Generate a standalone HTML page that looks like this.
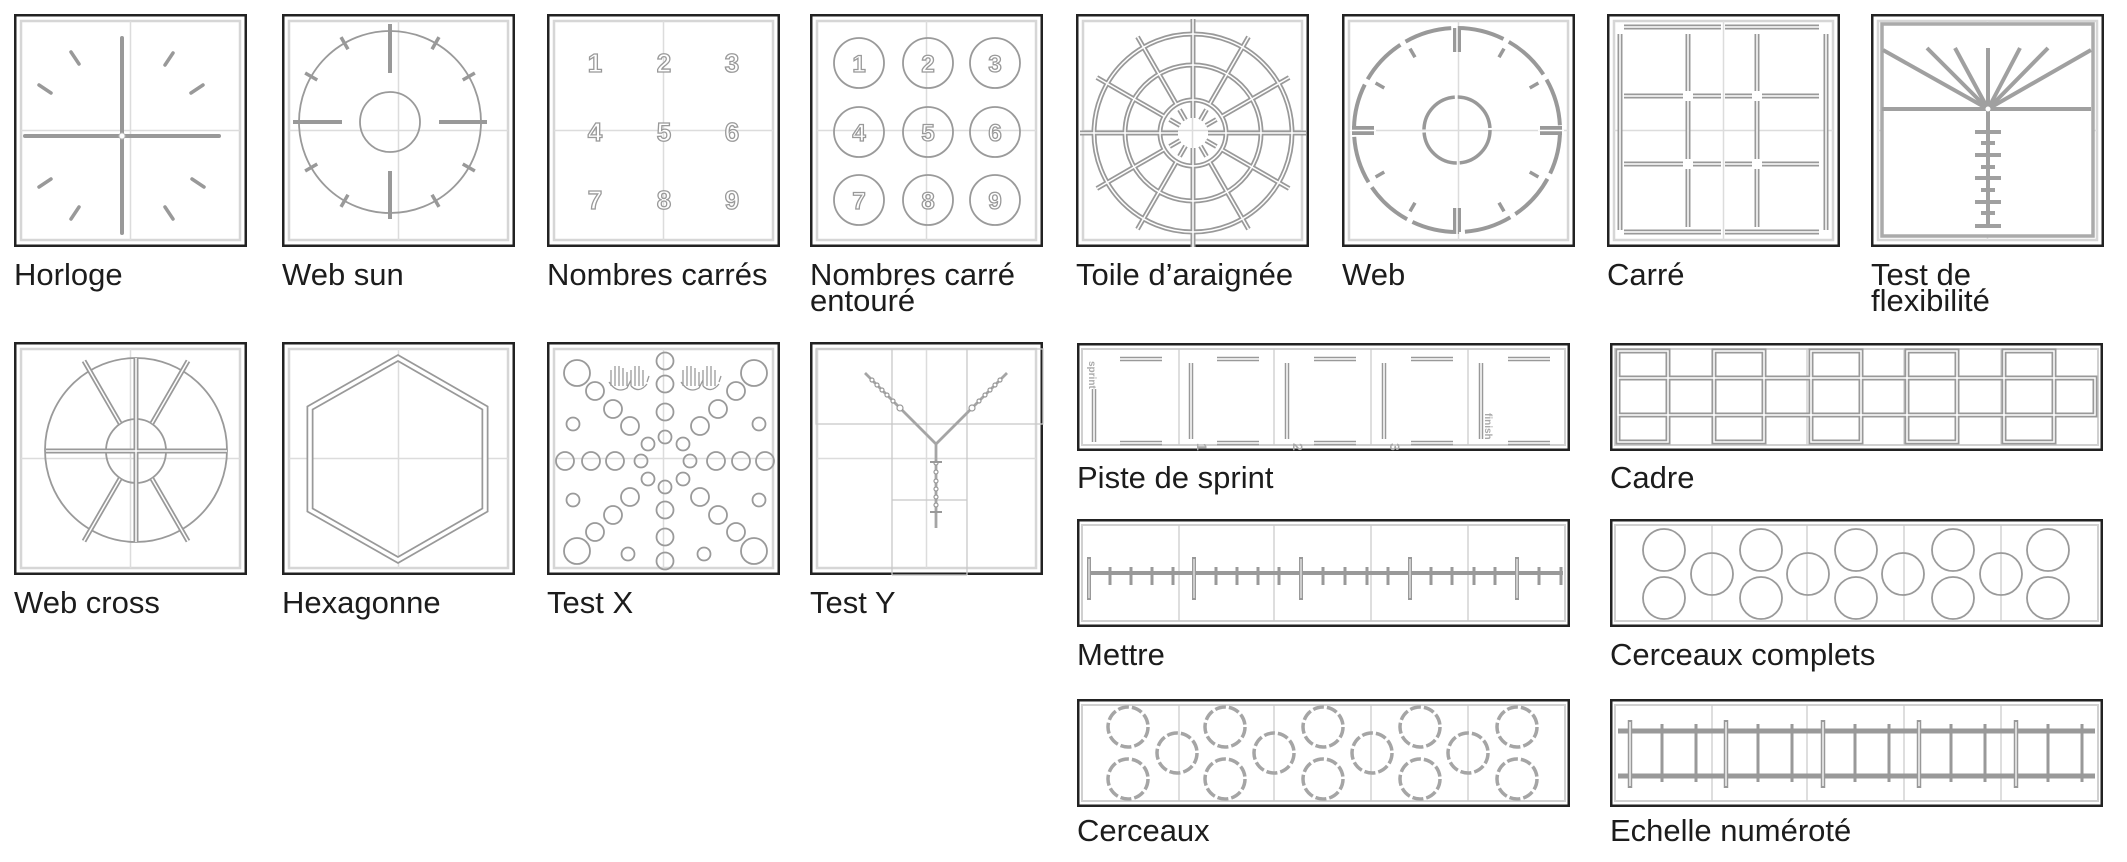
<!DOCTYPE html>
<html><head><meta charset="utf-8"><style>
html,body{margin:0;padding:0;background:#fff;}
svg{display:block;}
text.l{font-family:"Liberation Sans",Arial,sans-serif;font-size:31px;fill:#1c1c1c;}
.g{stroke:#9a9a9a;fill:none;}
</style></head><body>
<svg width="2127" height="862" viewBox="0 0 2127 862" xmlns="http://www.w3.org/2000/svg">
<defs>
<g id="sq">
<rect x="1.25" y="1.25" width="230.5" height="230.5" fill="#fff" stroke="#222" stroke-width="2.5"/>
<rect x="7" y="7" width="219" height="219" fill="none" stroke="#d6d6d6" stroke-width="2.5"/>
<line x1="116.5" y1="7" x2="116.5" y2="226" stroke="#dcdcdc" stroke-width="1.5"/>
<line x1="7" y1="116.5" x2="226" y2="116.5" stroke="#dcdcdc" stroke-width="1.5"/>
</g>
<g id="wd">
<rect x="1.25" y="1.25" width="490.5" height="105.5" fill="#fff" stroke="#222" stroke-width="2.5"/>
<rect x="5" y="6" width="483" height="96" fill="none" stroke="#d0d0d0" stroke-width="2"/>
<g stroke="#c8c8c8" stroke-width="1.2"><line x1="102" y1="6" x2="102" y2="102"/><line x1="197" y1="6" x2="197" y2="102"/><line x1="294" y1="6" x2="294" y2="102"/><line x1="391" y1="6" x2="391" y2="102"/></g>
</g>
</defs>

<!-- ROW 1 -->
<g transform="translate(14,14)"><use href="#sq"/>
<g stroke="#999" stroke-linecap="round">
<line x1="108" y1="24" x2="108" y2="219" stroke-width="4"/>
<line x1="11" y1="122" x2="205" y2="122" stroke-width="4"/>
<g stroke-width="3.5"><line x1="57" y1="38" x2="65" y2="50"/><line x1="151" y1="51" x2="159" y2="39"/><line x1="25" y1="71" x2="37" y2="79"/><line x1="177" y1="79" x2="189" y2="71"/><line x1="25" y1="173" x2="37" y2="165"/><line x1="178" y1="165" x2="190" y2="173"/><line x1="57" y1="205" x2="65" y2="193"/><line x1="151" y1="193" x2="159" y2="205"/></g>
</g><circle cx="108" cy="122" r="3" fill="#fff" stroke="#bbb"/></g>

<g transform="translate(282,14)"><use href="#sq"/>
<g class="g" stroke-width="1.8"><circle cx="108" cy="108" r="91"/><circle cx="108" cy="108" r="30"/></g>
<g stroke="#999" stroke-width="4"><line x1="108" y1="10" x2="108" y2="59"/><line x1="108" y1="157" x2="108" y2="205"/><line x1="11" y1="108" x2="60" y2="108"/><line x1="157" y1="108" x2="205" y2="108"/></g>
<g stroke="#999" stroke-width="3.5"><line x1="108" y1="10" x2="108" y2="24" transform="rotate(30 108 108)"/><line x1="108" y1="10" x2="108" y2="24" transform="rotate(60 108 108)"/><line x1="108" y1="10" x2="108" y2="24" transform="rotate(120 108 108)"/><line x1="108" y1="10" x2="108" y2="24" transform="rotate(150 108 108)"/><line x1="108" y1="10" x2="108" y2="24" transform="rotate(210 108 108)"/><line x1="108" y1="10" x2="108" y2="24" transform="rotate(240 108 108)"/><line x1="108" y1="10" x2="108" y2="24" transform="rotate(300 108 108)"/><line x1="108" y1="10" x2="108" y2="24" transform="rotate(330 108 108)"/></g></g>

<g transform="translate(547,14)"><use href="#sq"/>
<g font-family="Liberation Sans,sans-serif" font-size="26" font-weight="bold" fill="#fff" stroke="#999" stroke-width="1.3" text-anchor="middle">
<text x="48" y="58">1</text><text x="117" y="58">2</text><text x="185" y="58">3</text>
<text x="48" y="127">4</text><text x="117" y="127">5</text><text x="185" y="127">6</text>
<text x="48" y="195">7</text><text x="117" y="195">8</text><text x="185" y="195">9</text></g></g>

<g transform="translate(810,14)"><use href="#sq"/>
<g class="g" stroke-width="1.8"><circle cx="49" cy="49" r="25"/><circle cx="118" cy="49" r="25"/><circle cx="185" cy="49" r="25"/><circle cx="49" cy="118" r="25"/><circle cx="118" cy="118" r="25"/><circle cx="185" cy="118" r="25"/><circle cx="49" cy="186" r="25"/><circle cx="118" cy="186" r="25"/><circle cx="185" cy="186" r="25"/></g>
<g font-family="Liberation Sans,sans-serif" font-size="24" font-weight="bold" fill="#fff" stroke="#999" stroke-width="1.3" text-anchor="middle">
<text x="49" y="58">1</text><text x="118" y="58">2</text><text x="185" y="58">3</text>
<text x="49" y="127">4</text><text x="118" y="127">5</text><text x="185" y="127">6</text>
<text x="49" y="195">7</text><text x="118" y="195">8</text><text x="185" y="195">9</text></g></g>

<g transform="translate(1076,14)"><use href="#sq"/>
<g id="toile" fill="none">
<circle cx="117" cy="119" r="33"/><circle cx="117" cy="119" r="68"/><circle cx="117" cy="119" r="99"/>
<line x1="117" y1="104" x2="117" y2="5"/><line x1="117" y1="86" x2="117" y2="8" transform="rotate(30 117 119)"/><line x1="117" y1="86" x2="117" y2="8" transform="rotate(60 117 119)"/><line x1="117" y1="104" x2="117" y2="6" transform="rotate(90 117 119)"/><line x1="117" y1="86" x2="117" y2="8" transform="rotate(120 117 119)"/><line x1="117" y1="86" x2="117" y2="8" transform="rotate(150 117 119)"/><line x1="117" y1="104" x2="117" y2="5" transform="rotate(180 117 119)"/><line x1="117" y1="86" x2="117" y2="8" transform="rotate(210 117 119)"/><line x1="117" y1="86" x2="117" y2="8" transform="rotate(240 117 119)"/><line x1="117" y1="104" x2="117" y2="6" transform="rotate(270 117 119)"/><line x1="117" y1="86" x2="117" y2="8" transform="rotate(300 117 119)"/><line x1="117" y1="86" x2="117" y2="8" transform="rotate(330 117 119)"/>
<line x1="117" y1="104" x2="117" y2="92" transform="rotate(30 117 119)"/><line x1="117" y1="104" x2="117" y2="92" transform="rotate(60 117 119)"/><line x1="117" y1="104" x2="117" y2="92" transform="rotate(120 117 119)"/><line x1="117" y1="104" x2="117" y2="92" transform="rotate(150 117 119)"/><line x1="117" y1="104" x2="117" y2="92" transform="rotate(210 117 119)"/><line x1="117" y1="104" x2="117" y2="92" transform="rotate(240 117 119)"/><line x1="117" y1="104" x2="117" y2="92" transform="rotate(300 117 119)"/><line x1="117" y1="104" x2="117" y2="92" transform="rotate(330 117 119)"/>
</g></g>
<use href="#toile" x="1076" y="14" stroke="#999" stroke-width="5"/>
<use href="#toile" x="1076" y="14" stroke="#fff" stroke-width="1.5"/>

<g transform="translate(1342,14)"><use href="#sq"/>
<ellipse cx="115" cy="116" rx="103" ry="102" fill="none" stroke="#999" stroke-width="4" stroke-dasharray="48 6" stroke-dashoffset="3"/>
<ellipse cx="115" cy="116" rx="33" ry="33" fill="none" stroke="#999" stroke-width="3.5" stroke-dasharray="49 3"/>
<g stroke="#999" stroke-width="3.5"><line x1="115" y1="22" x2="115" y2="32" transform="rotate(30 115 116)"/><line x1="115" y1="22" x2="115" y2="32" transform="rotate(60 115 116)"/><line x1="115" y1="22" x2="115" y2="32" transform="rotate(120 115 116)"/><line x1="115" y1="22" x2="115" y2="32" transform="rotate(150 115 116)"/><line x1="115" y1="22" x2="115" y2="32" transform="rotate(210 115 116)"/><line x1="115" y1="22" x2="115" y2="32" transform="rotate(240 115 116)"/><line x1="115" y1="22" x2="115" y2="32" transform="rotate(300 115 116)"/><line x1="115" y1="22" x2="115" y2="32" transform="rotate(330 115 116)"/></g>
<g fill="#999"><rect x="111" y="14" width="8" height="24"/><rect x="111" y="194" width="8" height="24"/><rect x="10" y="112" width="22" height="9"/><rect x="198" y="112" width="22" height="9"/></g>
<g stroke="#fff" stroke-width="1.5"><line x1="115" y1="12" x2="115" y2="40"/><line x1="115" y1="192" x2="115" y2="220"/><line x1="8" y1="116.5" x2="34" y2="116.5"/><line x1="196" y1="116.5" x2="222" y2="116.5"/></g></g>

<g transform="translate(1607,14)"><use href="#sq"/>
<g id="carre" fill="none">
<line x1="17" y1="13" x2="114" y2="13"/><line x1="118" y1="13" x2="212" y2="13"/>
<line x1="17" y1="218" x2="114" y2="218"/><line x1="118" y1="218" x2="212" y2="218"/>
<line x1="13" y1="20" x2="13" y2="216"/><line x1="219" y1="20" x2="219" y2="216"/>
<line x1="81" y1="20" x2="81" y2="77"/><line x1="81" y1="87" x2="81" y2="145"/><line x1="81" y1="155" x2="81" y2="213"/>
<line x1="150" y1="20" x2="150" y2="77"/><line x1="150" y1="87" x2="150" y2="145"/><line x1="150" y1="155" x2="150" y2="213"/>
<line x1="17" y1="82" x2="76" y2="82"/><line x1="86" y1="82" x2="114" y2="82"/><line x1="118" y1="82" x2="145" y2="82"/><line x1="155" y1="82" x2="212" y2="82"/>
<line x1="17" y1="150" x2="76" y2="150"/><line x1="86" y1="150" x2="114" y2="150"/><line x1="118" y1="150" x2="145" y2="150"/><line x1="155" y1="150" x2="212" y2="150"/>
</g></g>
<use href="#carre" x="1607" y="14" stroke="#999" stroke-width="5"/>
<use href="#carre" x="1607" y="14" stroke="#fff" stroke-width="1.5"/>

<g transform="translate(1871,14)"><use href="#sq"/>
<rect x="11" y="10" width="211" height="212" fill="#fff" stroke="#aaa" stroke-width="3.5"/>
<g stroke="#a0a0a0" stroke-width="4"><line x1="11" y1="95" x2="220" y2="95"/>
<line x1="117" y1="95" x2="12" y2="36"/><line x1="117" y1="95" x2="56" y2="34"/><line x1="117" y1="95" x2="84" y2="34"/><line x1="117" y1="95" x2="117" y2="34"/><line x1="117" y1="95" x2="149" y2="34"/><line x1="117" y1="95" x2="177" y2="34"/><line x1="117" y1="95" x2="220" y2="36"/>
<line x1="117" y1="95" x2="117" y2="213"/>
<line x1="104" y1="118" x2="130" y2="118"/><line x1="110" y1="129" x2="124" y2="129"/><line x1="104" y1="141" x2="130" y2="141"/><line x1="110" y1="153" x2="124" y2="153"/><line x1="104" y1="164" x2="130" y2="164"/><line x1="110" y1="176" x2="124" y2="176"/><line x1="104" y1="188" x2="130" y2="188"/><line x1="110" y1="199" x2="124" y2="199"/><line x1="104" y1="212" x2="130" y2="212"/></g>
<circle cx="117" cy="95" r="2.5" fill="#fff"/></g>

<!-- ROW 2 -->
<g transform="translate(14,342)"><use href="#sq"/>
<g class="g" stroke-width="1.8"><ellipse cx="122" cy="108" rx="91" ry="92"/><ellipse cx="122" cy="109" rx="30" ry="32"/></g>
<g id="wc" fill="none"><line x1="122" y1="16" x2="122" y2="200"/><line x1="32" y1="109" x2="213" y2="109"/>
<line x1="122" y1="77" x2="122" y2="5" transform="rotate(-30 122 109)"/><line x1="122" y1="77" x2="122" y2="5" transform="rotate(30 122 109)"/><line x1="122" y1="77" x2="122" y2="5" transform="rotate(150 122 109)"/><line x1="122" y1="77" x2="122" y2="5" transform="rotate(210 122 109)"/></g></g>
<use href="#wc" x="14" y="342" stroke="#999" stroke-width="5"/>
<use href="#wc" x="14" y="342" stroke="#fff" stroke-width="1.5"/>

<g transform="translate(282,342)"><use href="#sq"/>
<polygon points="116,16 203,66 203,168 116,218 28,168 28,66" fill="none" stroke="#999" stroke-width="7"/>
<polygon points="116,16 203,66 203,168 116,218 28,168 28,66" fill="none" stroke="#fff" stroke-width="3.5"/></g>

<g transform="translate(547,342)"><use href="#sq"/>
<g class="g" stroke-width="1.8">
<circle cx="118" cy="19" r="8.5"/><circle cx="118" cy="42" r="8.5"/><circle cx="118" cy="70" r="8.5"/><circle cx="118" cy="95" r="6.5"/><circle cx="118" cy="145" r="6.5"/><circle cx="118" cy="168" r="8.5"/><circle cx="118" cy="195" r="8.5"/><circle cx="118" cy="219" r="8.5"/>
<circle cx="18" cy="119" r="9"/><circle cx="44" cy="119" r="9"/><circle cx="68" cy="119" r="9"/><circle cx="94" cy="119" r="6.5"/><circle cx="143" cy="119" r="6.5"/><circle cx="169" cy="119" r="9"/><circle cx="194" cy="119" r="9"/><circle cx="218" cy="119" r="9"/>
<circle cx="30" cy="31" r="13"/><circle cx="48" cy="49" r="9"/><circle cx="66" cy="67" r="9"/><circle cx="83" cy="84" r="9"/><circle cx="101" cy="102" r="6.5"/>
<circle cx="207" cy="31" r="13"/><circle cx="189" cy="49" r="9"/><circle cx="171" cy="67" r="9"/><circle cx="153" cy="84" r="9"/><circle cx="136" cy="102" r="6.5"/>
<circle cx="26" cy="82" r="6.5"/><circle cx="212" cy="82" r="6.5"/><circle cx="26" cy="158" r="6.5"/><circle cx="212" cy="158" r="6.5"/>
<circle cx="30" cy="209" r="13"/><circle cx="48" cy="190" r="9"/><circle cx="66" cy="173" r="9"/><circle cx="83" cy="155" r="9"/><circle cx="101" cy="137" r="6.5"/>
<circle cx="207" cy="209" r="13"/><circle cx="189" cy="190" r="9"/><circle cx="171" cy="173" r="9"/><circle cx="153" cy="155" r="9"/><circle cx="136" cy="137" r="6.5"/>
<circle cx="81" cy="212" r="6.5"/><circle cx="157" cy="212" r="6.5"/>
<path d="M64 44 L64 28 M68 44 L68 24 M72 44 L72 24 M76 44 L76 26 M80 44 L80 30 M62 40 Q70 52 80 46 L84 38 M84 44 L84 28 M88 44 L88 24 M92 44 L92 24 M96 44 L96 28 M100 40 L102 34 M84 44 Q92 52 100 42" stroke-width="1.3"/>
<path d="M136 44 L136 28 M140 44 L140 24 M144 44 L144 24 M148 44 L148 26 M152 44 L152 30 M134 40 Q142 52 152 46 L156 38 M156 44 L156 28 M160 44 L160 24 M164 44 L164 24 M168 44 L168 28 M172 40 L174 34 M156 44 Q164 52 172 42" stroke-width="1.3"/>
</g></g>

<g transform="translate(810,342)"><use href="#sq"/>
<g fill="none" stroke="#c8c8c8" stroke-width="1.3"><rect x="6" y="7" width="227" height="75"/><line x1="82" y1="7" x2="82" y2="233"/><line x1="157" y1="7" x2="157" y2="233"/><line x1="82" y1="233" x2="157" y2="233"/><line x1="82" y1="158" x2="157" y2="158"/></g>
<g stroke="#a5a5a5" stroke-width="2.8" fill="none"><polyline points="55,31 126,102 197,31"/><line x1="126" y1="100" x2="126" y2="186"/></g>
<g fill="#fff" stroke="#999" stroke-width="1.2"><circle cx="62" cy="38" r="2"/><circle cx="67" cy="43" r="2"/><circle cx="72" cy="48" r="2"/><circle cx="77" cy="53" r="2"/><circle cx="83" cy="59" r="2"/><circle cx="90" cy="66" r="3"/>
<circle cx="190" cy="38" r="2"/><circle cx="185" cy="43" r="2"/><circle cx="180" cy="48" r="2"/><circle cx="175" cy="53" r="2"/><circle cx="169" cy="59" r="2"/><circle cx="162" cy="66" r="3"/>
<circle cx="126" cy="121" r="2"/><circle cx="126" cy="130" r="2"/><circle cx="126" cy="139" r="2"/><circle cx="126" cy="147" r="2"/><circle cx="126" cy="155" r="2"/><circle cx="126" cy="163" r="2"/></g>
<g stroke="#999" stroke-width="2"><line x1="120" y1="120" x2="132" y2="120"/><line x1="120" y1="170" x2="132" y2="170"/></g></g>

<!-- WIDE TILES -->
<g transform="translate(1077,343)"><use href="#wd"/>
<g id="piste" fill="none">
<line x1="17" y1="46" x2="17" y2="99"/>
<line x1="43" y1="16" x2="85" y2="16"/><line x1="43" y1="100" x2="85" y2="100"/>
<line x1="114" y1="20" x2="114" y2="96"/><line x1="140" y1="16" x2="182" y2="16"/><line x1="140" y1="100" x2="182" y2="100"/>
<line x1="210" y1="20" x2="210" y2="96"/><line x1="237" y1="16" x2="279" y2="16"/><line x1="237" y1="100" x2="279" y2="100"/>
<line x1="307" y1="20" x2="307" y2="96"/><line x1="334" y1="16" x2="376" y2="16"/><line x1="334" y1="100" x2="376" y2="100"/>
<line x1="404" y1="20" x2="404" y2="96"/><line x1="431" y1="16" x2="473" y2="16"/><line x1="431" y1="100" x2="473" y2="100"/>
</g>
<g font-family="Liberation Sans,sans-serif" font-weight="bold" fill="#aaa"><text x="0" y="0" font-size="10" transform="translate(12,18) rotate(90)">sprint</text>
<text font-size="14" transform="translate(120,100) rotate(90)">1</text><text font-size="14" transform="translate(216,100) rotate(90)">2</text><text font-size="14" transform="translate(313,100) rotate(90)">3</text><text font-size="10" transform="translate(408,70) rotate(90)">finish</text></g></g>
<use href="#piste" x="1077" y="343" stroke="#999" stroke-width="4.5"/>
<use href="#piste" x="1077" y="343" stroke="#fff" stroke-width="1.5"/>

<g transform="translate(1610,343)"><use href="#wd"/>
<g id="cadre" fill="none">
<rect x="8" y="35" width="477" height="37"/>
<rect x="8" y="8" width="50" height="91"/><rect x="104" y="8" width="50" height="91"/><rect x="201" y="8" width="50" height="91"/><rect x="297" y="8" width="50" height="91"/><rect x="394" y="8" width="50" height="91"/>
</g></g>
<use href="#cadre" x="1610" y="343" stroke="#999" stroke-width="5"/>
<use href="#cadre" x="1610" y="343" stroke="#fff" stroke-width="1.5"/>

<g transform="translate(1077,519)"><use href="#wd"/>
<g stroke="#999"><line x1="10" y1="54" x2="486" y2="54" stroke-width="4"/>
<g stroke-width="4"><line x1="12" y1="38" x2="12" y2="81"/><line x1="117" y1="38" x2="117" y2="81"/><line x1="224" y1="38" x2="224" y2="81"/><line x1="333" y1="38" x2="333" y2="81"/><line x1="440" y1="38" x2="440" y2="81"/></g>
<g stroke-width="3"><line x1="33" y1="48" x2="33" y2="66"/><line x1="54" y1="48" x2="54" y2="66"/><line x1="75" y1="48" x2="75" y2="66"/><line x1="96" y1="48" x2="96" y2="66"/>
<line x1="139" y1="48" x2="139" y2="66"/><line x1="160" y1="48" x2="160" y2="66"/><line x1="181" y1="48" x2="181" y2="66"/><line x1="202" y1="48" x2="202" y2="66"/>
<line x1="246" y1="48" x2="246" y2="66"/><line x1="268" y1="48" x2="268" y2="66"/><line x1="290" y1="48" x2="290" y2="66"/><line x1="311" y1="48" x2="311" y2="66"/>
<line x1="354" y1="48" x2="354" y2="66"/><line x1="375" y1="48" x2="375" y2="66"/><line x1="397" y1="48" x2="397" y2="66"/><line x1="418" y1="48" x2="418" y2="66"/>
<line x1="462" y1="48" x2="462" y2="66"/><line x1="484" y1="48" x2="484" y2="66"/></g></g>
<g stroke="#fff" stroke-width="1"><line x1="12" y1="40" x2="12" y2="79"/><line x1="117" y1="40" x2="117" y2="79"/><line x1="224" y1="40" x2="224" y2="79"/><line x1="333" y1="40" x2="333" y2="79"/><line x1="440" y1="40" x2="440" y2="79"/></g></g>

<g transform="translate(1610,519)"><use href="#wd"/>
<g class="g" stroke-width="1.8">
<circle cx="54" cy="31" r="21"/><circle cx="151" cy="31" r="21"/><circle cx="246" cy="31" r="21"/><circle cx="343" cy="31" r="21"/><circle cx="438" cy="31" r="21"/>
<circle cx="54" cy="79" r="21"/><circle cx="151" cy="79" r="21"/><circle cx="246" cy="79" r="21"/><circle cx="343" cy="79" r="21"/><circle cx="438" cy="79" r="21"/>
<circle cx="102" cy="55" r="21"/><circle cx="198" cy="55" r="21"/><circle cx="293" cy="55" r="21"/><circle cx="391" cy="55" r="21"/></g></g>

<g transform="translate(1077,699)"><use href="#wd"/>
<g fill="none" stroke="#a5a5a5" stroke-width="3.5" stroke-dasharray="11 3">
<circle cx="51" cy="28" r="20"/><circle cx="148" cy="28" r="20"/><circle cx="246" cy="28" r="20"/><circle cx="343" cy="28" r="20"/><circle cx="440" cy="28" r="20"/>
<circle cx="51" cy="80" r="20"/><circle cx="148" cy="80" r="20"/><circle cx="246" cy="80" r="20"/><circle cx="343" cy="80" r="20"/><circle cx="440" cy="80" r="20"/>
<circle cx="100" cy="54" r="20"/><circle cx="197" cy="54" r="20"/><circle cx="295" cy="54" r="20"/><circle cx="391" cy="54" r="20"/></g></g>

<g transform="translate(1610,699)"><use href="#wd"/>
<g stroke="#999"><g stroke-width="5"><line x1="8" y1="32" x2="485" y2="32"/><line x1="8" y1="77" x2="485" y2="77"/></g>
<g stroke-width="3"><line x1="52" y1="25" x2="52" y2="83"/><line x1="86" y1="25" x2="86" y2="83"/><line x1="148" y1="25" x2="148" y2="83"/><line x1="182" y1="25" x2="182" y2="83"/><line x1="245" y1="25" x2="245" y2="83"/><line x1="279" y1="25" x2="279" y2="83"/><line x1="341" y1="25" x2="341" y2="83"/><line x1="375" y1="25" x2="375" y2="83"/><line x1="438" y1="25" x2="438" y2="83"/><line x1="472" y1="25" x2="472" y2="83"/></g>
<g stroke-width="4.5"><line x1="20" y1="21" x2="20" y2="89"/><line x1="116" y1="21" x2="116" y2="89"/><line x1="213" y1="21" x2="213" y2="89"/><line x1="309" y1="21" x2="309" y2="89"/><line x1="406" y1="21" x2="406" y2="89"/></g></g>
<g stroke="#fff" stroke-width="1.3"><line x1="20" y1="23" x2="20" y2="87"/><line x1="116" y1="23" x2="116" y2="87"/><line x1="213" y1="23" x2="213" y2="87"/><line x1="309" y1="23" x2="309" y2="87"/><line x1="406" y1="23" x2="406" y2="87"/></g></g>

<!-- LABELS -->
<text class="l" x="14" y="285">Horloge</text>
<text class="l" x="282" y="285">Web sun</text>
<text class="l" x="547" y="285">Nombres carrés</text>
<text class="l" x="810" y="285">Nombres carré</text>
<text class="l" x="810" y="311">entouré</text>
<text class="l" x="1076" y="285">Toile d’araignée</text>
<text class="l" x="1342" y="285">Web</text>
<text class="l" x="1607" y="285">Carré</text>
<text class="l" x="1871" y="285">Test de</text>
<text class="l" x="1871" y="311">flexibilité</text>
<text class="l" x="14" y="613">Web cross</text>
<text class="l" x="282" y="613">Hexagonne</text>
<text class="l" x="547" y="613">Test X</text>
<text class="l" x="810" y="613">Test Y</text>
<text class="l" x="1077" y="488">Piste de sprint</text>
<text class="l" x="1610" y="488">Cadre</text>
<text class="l" x="1077" y="665">Mettre</text>
<text class="l" x="1610" y="665">Cerceaux complets</text>
<text class="l" x="1077" y="841">Cerceaux</text>
<text class="l" x="1610" y="841">Echelle numéroté</text>
</svg>
</body></html>
